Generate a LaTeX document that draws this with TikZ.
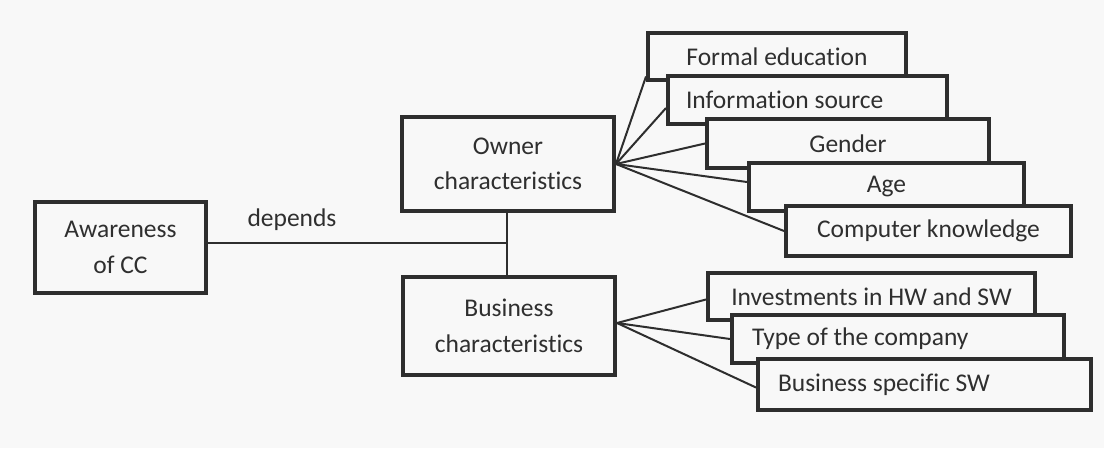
\documentclass[tikz,border=0pt]{standalone}
\usepackage{fontspec}
\setmainfont{Carlito}[Ligatures={NoCommon}]
\usetikzlibrary{calc}
\definecolor{bgc}{HTML}{F8F8F8}
\definecolor{ink}{HTML}{2E2E2E}
\definecolor{txt}{HTML}{2F2F2F}
\begin{document}
\begin{tikzpicture}[x=1pt,y=-1pt,
  box/.style={draw=ink, line width=4pt, fill=bgc, text=txt, inner sep=0pt, align=center,
    font=\fontsize{25.5}{35.5}\selectfont},
  lbox/.style={box, align=flush left},
  conn/.style={draw=ink, line width=2pt},
  lbl/.style={text=txt, font=\fontsize{25.5}{35.5}\selectfont}]
\fill[bgc] (0,0) rectangle (1104,448);
\useasboundingbox (0,0) rectangle (1104,448);

% main boxes
\node[box, minimum width=171pt, minimum height=91pt] (aw) at (120.5,247.5) {Awareness\\of CC};
\node[box, minimum width=212pt, minimum height=94pt] (own) at (508,164) {Owner\\characteristics};
\node[box, minimum width=212pt, minimum height=98pt] (bus) at (509,326) {Business\\characteristics};

% owner characteristic boxes
\node[box, minimum width=258pt, minimum height=47pt] (fe) at (777,56.5) {Formal education};
\node[lbox, inner xsep=18pt, text width=243pt, minimum height=48pt] (is) at (807.5,100) {Information source};
\node[box, minimum width=282pt, minimum height=49pt] (ge) at (848,143.5) {Gender};
\node[box, minimum width=275pt, minimum height=48pt] (age) at (886.5,187) {Age};
\node[box, minimum width=285pt, minimum height=50pt] (ck) at (928.5,231) {Computer knowledge};

% business characteristic boxes
\node[box, minimum width=327pt, minimum height=47pt] (inv) at (871.5,296.5) {Investments in HW and SW};
\node[lbox, inner xsep=20pt, text width=292pt, minimum height=48pt] (typ) at (898,339) {Type of the company};
\node[lbox, inner xsep=20pt, text width=293pt, minimum height=51pt] (bss) at (924.5,384.5) {Business specific SW};

% label
\node[lbl] (dep) at (292,220) {depends};

% connectors
\coordinate (j) at (507,243);
\draw[conn] (aw.east |- j) -- (j);
\draw[conn] (j |- own.south) -- (j |- bus.north);

\draw[conn] (own.east) -- ($(fe.west)+(0,20)$);
\draw[conn] (own.east) -- ($(is.west)+(0,8)$);
\draw[conn] (own.east) -- (ge.west);
\draw[conn] (own.east) -- ($(age.west)+(0,-5)$);
\draw[conn] (own.east) -- (ck.west);

\draw[conn] ($(bus.east)+(0,-3)$) -- ($(inv.west)+(0,3)$);
\draw[conn] ($(bus.east)+(0,-3)$) -- (typ.west);
\draw[conn] ($(bus.east)+(0,-3)$) -- ($(bss.west)+(0,3)$);
\end{tikzpicture}
\end{document}
